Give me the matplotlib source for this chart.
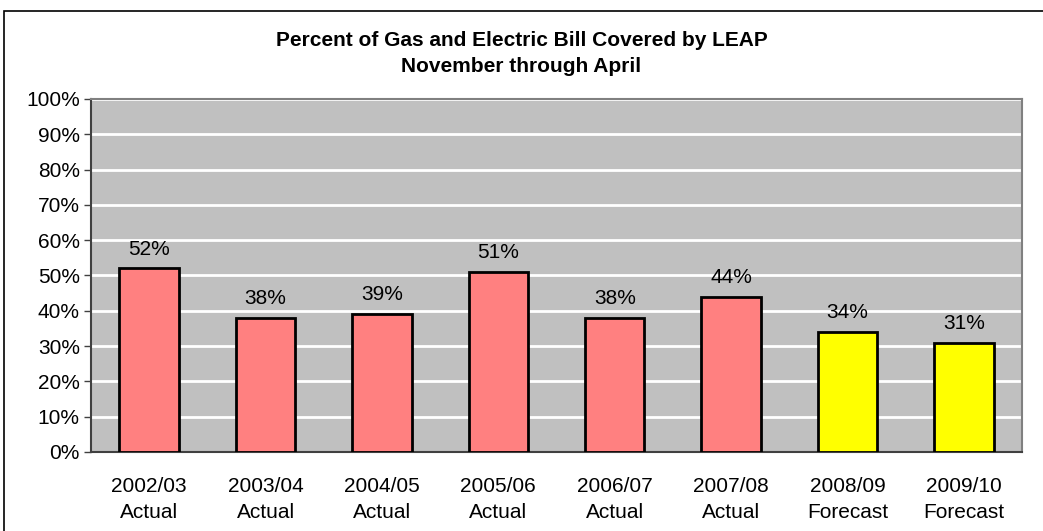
import matplotlib
matplotlib.use("Agg")
import matplotlib.pyplot as plt
from matplotlib.patches import Rectangle

plt.rcParams['font.family'] = ['Liberation Sans', 'DejaVu Sans']

seasons = ["2002/03\nActual", "2003/04\nActual", "2004/05\nActual", "2005/06\nActual",
           "2006/07\nActual", "2007/08\nActual", "2008/09\nForecast", "2009/10\nForecast"]
pct = [52, 38, 39, 51, 38, 44, 34, 31]
kind = ["Actual"] * 6 + ["Forecast"] * 2
colors = {"Actual": "#ff8080", "Forecast": "#ffff00"}

fig = plt.figure(figsize=(10.43, 5.31), dpi=100)
ax = fig.add_axes([0.0872, 0.1488, 0.8928, 0.6648])

x = range(len(seasons))
bars = ax.bar(x, pct, width=0.51, color=[colors[k] for k in kind],
              edgecolor="black", linewidth=2, zorder=3)
for b, v in zip(bars, pct):
    ax.text(b.get_x() + b.get_width() / 2, v + 2.8, f"{v}%", ha="center", va="bottom",
            fontsize=15, zorder=4)

ax.set_facecolor("#c0c0c0")
ax.set_xlim(-0.5, len(seasons) - 0.5)
ax.set_ylim(0, 100)
ax.set_yticks(range(0, 101, 10))
ax.set_yticklabels([f"{t}%" for t in range(0, 101, 10)], fontsize=15)
ax.set_xticks(list(x))
ax.set_xticklabels(seasons, fontsize=15, linespacing=1.5)
ax.tick_params(axis="x", length=0, pad=18)
ax.tick_params(axis="y", length=5, width=1, color="#404040", pad=3)
ax.yaxis.grid(True, color="white", linewidth=2, zorder=1)
ax.set_axisbelow(True)
for s in ["top", "right"]:
    ax.spines[s].set_color("#808080")
    ax.spines[s].set_linewidth(1.5)
for s in ["left", "bottom"]:
    ax.spines[s].set_color("#404040")
    ax.spines[s].set_linewidth(1.5)

fig.text(0.5, 0.899, "Percent of Gas and Electric Bill Covered by LEAP\nNovember through April",
         ha="center", va="center", fontsize=15, fontweight="bold", linespacing=1.5)

fig.patches.append(Rectangle((0.004, -0.01), 1.0, 0.99, transform=fig.transFigure,
                             fill=False, edgecolor="black", linewidth=1.2))

fig.savefig("out.png", dpi=100)
